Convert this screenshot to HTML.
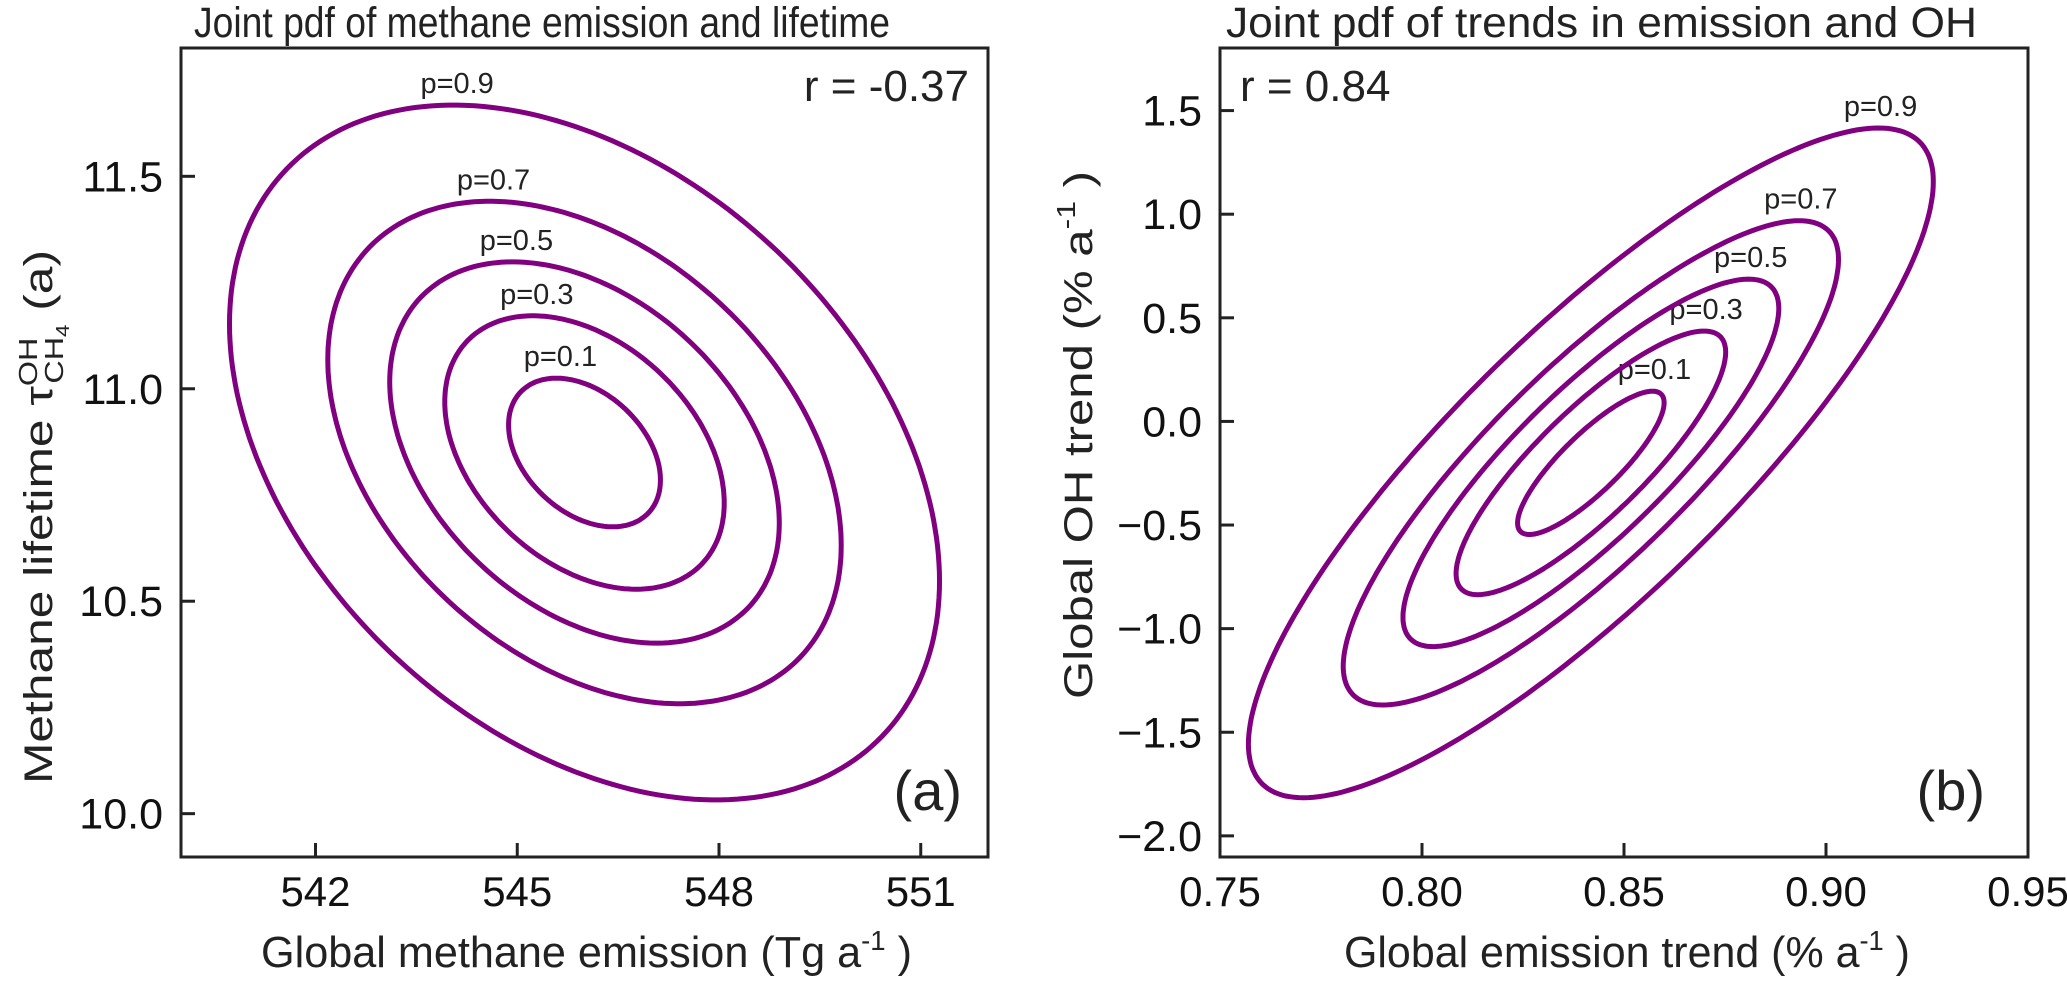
<!DOCTYPE html>
<html><head><meta charset="utf-8"><style>
html,body{margin:0;padding:0;background:#fff;}
svg{display:block;font-family:"Liberation Sans",Arial,sans-serif;}
</style></head><body>
<svg id="fig" width="2067" height="985" viewBox="0 0 2067 985" xmlns="http://www.w3.org/2000/svg">
<g id="pa"></g>
<g id="pb"></g>
</svg>
<script>
// ---- data ----
const probLevels = [0.1, 0.3, 0.5, 0.7, 0.9];
const probLabels = ["p=0.1", "p=0.3", "p=0.5", "p=0.7", "p=0.9"];
// panel a: mean emission, mean lifetime, sd emission, sd lifetime, correlation
const aMean = [546.0, 10.85];
const aSd = [2.46, 0.381];
const aCorr = -0.37;
const aXTicks = [542, 545, 548, 551];
const aYTicks = [10.0, 10.5, 11.0, 11.5];
const aXTickLabels = ["542", "545", "548", "551"];
const aYTickLabels = ["10.0", "10.5", "11.0", "11.5"];
// panel b
const bMean = [0.8418, -0.20];
const bSd = [0.0395, 0.753];
const bCorr = 0.84;
const bXTicks = [0.75, 0.80, 0.85, 0.90, 0.95];
const bYTicks = [-2.0, -1.5, -1.0, -0.5, 0.0, 0.5, 1.0, 1.5];
const bXTickLabels = ["0.75", "0.80", "0.85", "0.90", "0.95"];
const bYTickLabels = ["\u22122.0", "\u22121.5", "\u22121.0", "\u22120.5", "0.0", "0.5", "1.0", "1.5"];

const NS = "http://www.w3.org/2000/svg";
function mk(tag, attrs, parent, text) {
  const e = document.createElementNS(NS, tag);
  for (const k in attrs) e.setAttribute(k, attrs[k]);
  if (text !== undefined) e.textContent = text;
  parent.appendChild(e);
  return e;
}
function scale(d0, d1, r0, r1) { return v => r0 + (v - d0) / (d1 - d0) * (r1 - r0); }

function panel(g, box, xd, yd, mean, sd, corr, xt, xtl, yt, ytl, labOff) {
  const X = scale(xd[0], xd[1], box.l, box.r);
  const Y = scale(yd[0], yd[1], box.b, box.t);
  probLevels.forEach((p, i) => {
    const d = Math.sqrt(-2 * Math.log(1 - p));
    let pts = [];
    for (let k = 0; k <= 240; k++) {
      const t = k / 240 * 2 * Math.PI;
      const xv = mean[0] + d * sd[0] * Math.cos(t);
      const yv = mean[1] + d * sd[1] * (corr * Math.cos(t) + Math.sqrt(1 - corr * corr) * Math.sin(t));
      pts.push(X(xv).toFixed(1) + "," + Y(yv).toFixed(1));
    }
    const path = mk("path", {d: "M" + pts.join("L") + "Z", fill: "none", stroke: "#800080", "stroke-width": 5}, g);
    
    
    const tx = mean[0] + corr * d * sd[0];
    const ty = mean[1] + d * sd[1];
    const lab = mk("text", {x: X(tx) + labOff, y: Y(ty) - 12, "font-size": 29, "text-anchor": "middle", fill: "#222"}, g, probLabels[i]);
    
    
  });
  const fr = mk("rect", {x: box.l, y: box.t, width: box.r - box.l, height: box.b - box.t, fill: "none", stroke: "#222", "stroke-width": 3}, g);
  
  
  xt.forEach((v, i) => {
    const x = X(v);
    const tk = mk("line", {x1: x, x2: x, y1: box.b, y2: box.b - 14, stroke: "#222", "stroke-width": 3}, g);
    
    
    const tl = mk("text", {x: x, y: box.b + 49, "font-size": 42, "text-anchor": "middle", fill: "#111"}, g, xtl[i]);
    
    
  });
  yt.forEach((v, i) => {
    const y = Y(v);
    const tk = mk("line", {x1: box.l, x2: box.l + 14, y1: y, y2: y, stroke: "#222", "stroke-width": 3}, g);
    
    
    const tl = mk("text", {x: box.l - 18, y: y + 15, "font-size": 43, "text-anchor": "end", fill: "#111"}, g, ytl[i]);
    
    
  });
}

const ga = document.getElementById("pa");
const gb = document.getElementById("pb");
panel(ga, {l: 181, r: 988, t: 48, b: 857}, [540, 552], [9.898, 11.802], aMean, aSd, aCorr, aXTicks, aXTickLabels, aYTicks, aYTickLabels, 4);
panel(gb, {l: 1220, r: 2028, t: 48, b: 857}, [0.75, 0.95], [-2.102, 1.802], bMean, bSd, bCorr, bXTicks, bXTickLabels, bYTicks, bYTickLabels, 2);
</script>
<svg style="position:absolute;left:0;top:0" width="2067" height="985" xmlns="http://www.w3.org/2000/svg" font-family="Liberation Sans, Arial, sans-serif" fill="#222">
<text x="194" y="37" font-size="43" textLength="696" lengthAdjust="spacingAndGlyphs">Joint pdf of methane emission and lifetime</text>
<text x="1226" y="37" font-size="43" textLength="751" lengthAdjust="spacingAndGlyphs">Joint pdf of trends in emission and OH</text>
<text x="969" y="101" font-size="44" text-anchor="end">r = -0.37</text>
<text x="1240" y="101" font-size="44">r = 0.84</text>
<text x="962" y="810" font-size="56" text-anchor="end">(a)</text>
<text x="1985" y="810" font-size="56" text-anchor="end">(b)</text>
<text x="261" y="967" font-size="44" textLength="651" lengthAdjust="spacingAndGlyphs">Global methane emission (Tg a<tspan dy="-17" font-size="28">-1</tspan><tspan dy="17"> )</tspan></text>
<text x="1344" y="967" font-size="44" textLength="566" lengthAdjust="spacingAndGlyphs">Global emission trend (% a<tspan dy="-17" font-size="28">-1</tspan><tspan dy="17"> )</tspan></text>
<text transform="translate(52,784) rotate(-90)" font-size="40" textLength="534" lengthAdjust="spacingAndGlyphs">Methane lifetime τ<tspan dy="-15" font-size="26">OH</tspan><tspan dx="-37" dy="26" font-size="26">CH</tspan><tspan dy="6" font-size="18">4</tspan><tspan dy="-17">  (a)</tspan></text>
<text transform="translate(1092,699) rotate(-90)" font-size="40" textLength="528" lengthAdjust="spacingAndGlyphs">Global OH trend (% a<tspan dy="-17" font-size="26">-1</tspan><tspan dy="17"> )</tspan></text>
</svg>
</body></html>
